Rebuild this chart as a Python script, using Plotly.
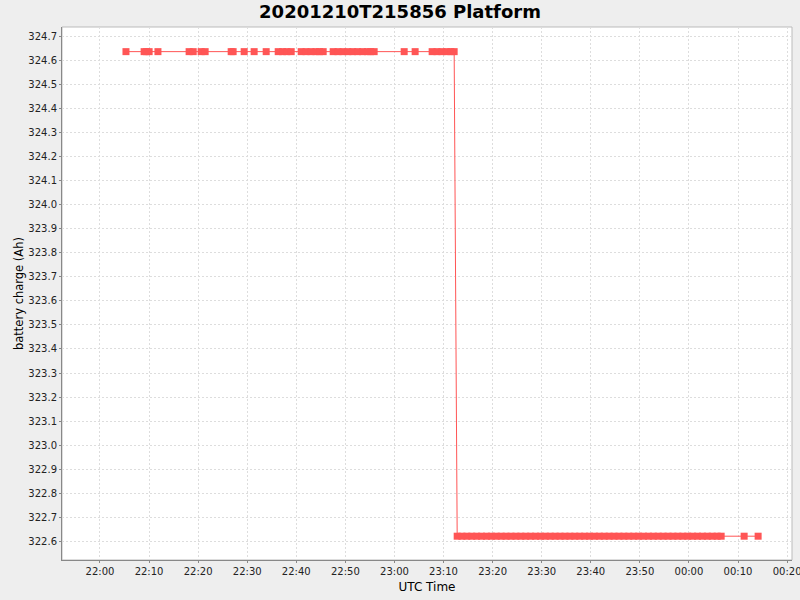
import plotly.graph_objects as go

# Sample times (UTC)
times_high = [
    "2020-12-10 22:05:18",
    "2020-12-10 22:09:00", "2020-12-10 22:09:30", "2020-12-10 22:10:01",
    "2020-12-10 22:11:49",
    "2020-12-10 22:18:10", "2020-12-10 22:19:00",
    "2020-12-10 22:20:37", "2020-12-10 22:21:26",
    "2020-12-10 22:26:44", "2020-12-10 22:27:08",
    "2020-12-10 22:29:23",
    "2020-12-10 22:31:25",
    "2020-12-10 22:33:52",
    "2020-12-10 22:36:19", "2020-12-10 22:37:12", "2020-12-10 22:38:05", "2020-12-10 22:38:58",
    "2020-12-10 22:41:00", "2020-12-10 22:42:00", "2020-12-10 22:43:00", "2020-12-10 22:44:00",
    "2020-12-10 22:44:45", "2020-12-10 22:45:29",
    "2020-12-10 22:47:31", "2020-12-10 22:48:30", "2020-12-10 22:49:30", "2020-12-10 22:50:30",
    "2020-12-10 22:51:30", "2020-12-10 22:52:30", "2020-12-10 22:53:30", "2020-12-10 22:54:30",
    "2020-12-10 22:55:10", "2020-12-10 22:55:52",
    "2020-12-10 23:01:59",
    "2020-12-10 23:04:13",
    "2020-12-10 23:07:41", "2020-12-10 23:08:40", "2020-12-10 23:09:40", "2020-12-10 23:10:40",
    "2020-12-10 23:11:30", "2020-12-10 23:12:10",
]
times_low = [
    "2020-12-10 23:12:47", "2020-12-10 23:13:45", "2020-12-10 23:14:45", "2020-12-10 23:15:45",
    "2020-12-10 23:16:45", "2020-12-10 23:17:45", "2020-12-10 23:18:45", "2020-12-10 23:19:45",
    "2020-12-10 23:20:45", "2020-12-10 23:21:45", "2020-12-10 23:22:45", "2020-12-10 23:23:45",
    "2020-12-10 23:24:45", "2020-12-10 23:25:45", "2020-12-10 23:26:45", "2020-12-10 23:27:45",
    "2020-12-10 23:28:45", "2020-12-10 23:29:45", "2020-12-10 23:30:45", "2020-12-10 23:31:45",
    "2020-12-10 23:32:45", "2020-12-10 23:33:45", "2020-12-10 23:34:45", "2020-12-10 23:35:45",
    "2020-12-10 23:36:45", "2020-12-10 23:37:45", "2020-12-10 23:38:45", "2020-12-10 23:39:45",
    "2020-12-10 23:40:45", "2020-12-10 23:41:45", "2020-12-10 23:42:45", "2020-12-10 23:43:45",
    "2020-12-10 23:44:45", "2020-12-10 23:45:45", "2020-12-10 23:46:45", "2020-12-10 23:47:45",
    "2020-12-10 23:48:45", "2020-12-10 23:49:45", "2020-12-10 23:50:45", "2020-12-10 23:51:45",
    "2020-12-10 23:52:45", "2020-12-10 23:53:45", "2020-12-10 23:54:45", "2020-12-10 23:55:45",
    "2020-12-10 23:56:45", "2020-12-10 23:57:45", "2020-12-10 23:58:45", "2020-12-10 23:59:45",
    "2020-12-11 00:00:45", "2020-12-11 00:01:45", "2020-12-11 00:02:45", "2020-12-11 00:03:45",
    "2020-12-11 00:04:45", "2020-12-11 00:05:45", "2020-12-11 00:06:34",
    "2020-12-11 00:11:15",
    "2020-12-11 00:14:06",
]
charge_high = 324.637   # Ah, level before the drop
charge_low = 322.621    # Ah, level after the drop

x_vals = times_high + times_low
y_vals = [charge_high] * len(times_high) + [charge_low] * len(times_low)

y_ticks = [322.6, 322.7, 322.8, 322.9, 323.0, 323.1, 323.2, 323.3, 323.4, 323.5, 323.6,
           323.7, 323.8, 323.9, 324.0, 324.1, 324.2, 324.3, 324.4, 324.5, 324.6, 324.7]

RED = "#FF5555"
FONT = "DejaVu Sans"

fig = go.Figure()
fig.add_trace(go.Scatter(
    x=x_vals, y=y_vals, mode="lines+markers",
    line=dict(color=RED, width=1),
    marker=dict(symbol="square", size=7, color=RED, line=dict(width=0)),
    showlegend=False, hoverinfo="skip",
))

fig.update_layout(
    width=800, height=600,
    paper_bgcolor="#EEEEEE", plot_bgcolor="#FFFFFF",
    margin=dict(l=62, r=8, t=27, b=40, autoexpand=False),
    font=dict(family=FONT, color="#222222", size=10),
    title=dict(text="<b>20201210T215856 Platform</b>", x=0.5, xanchor="center",
               y=0.98, yanchor="middle", yref="container",
               font=dict(family=FONT, size=18, color="#000000")),
    shapes=[dict(type="rect", xref="paper", yref="paper", x0=0, x1=1, y0=0, y1=1,
                 line=dict(color="#BBBBBB", width=1), layer="below")],
)
fig.update_xaxes(
    type="date",
    range=["2020-12-10 21:52:16", "2020-12-11 00:21:00"],
    dtick=600000, tick0="2020-12-10 22:00:00", tickformat="%H:%M",
    showgrid=True, gridcolor="#DDDDDD", griddash="2px,2px", gridwidth=1,
    showline=True, linecolor="#888888", linewidth=1,
    ticks="outside", ticklen=2, tickcolor="#888888",
    tickfont=dict(family=FONT, size=10, color="#222222"),
    ticklabeloverflow="allow",
    title=dict(text="UTC Time", font=dict(family=FONT, size=12, color="#000000"), standoff=6),
    zeroline=False, automargin=False,
)
fig.update_yaxes(
    range=[322.522, 324.7395],
    tickvals=y_ticks, tickformat=".1f",
    showgrid=True, gridcolor="#DDDDDD", griddash="2px,2px", gridwidth=1,
    showline=True, linecolor="#888888", linewidth=1,
    ticks="outside", ticklen=2, tickcolor="#888888",
    tickfont=dict(family=FONT, size=10, color="#222222"),
    ticklabeloverflow="allow",
    title=dict(text="battery charge (Ah)", font=dict(family=FONT, size=11.5, color="#000000"), standoff=2),
    zeroline=False, automargin=False,
)

fig.write_html("out.html", config={"displayModeBar": False},
               post_script="document.body.style.margin='0px';document.body.style.padding='0px';")
